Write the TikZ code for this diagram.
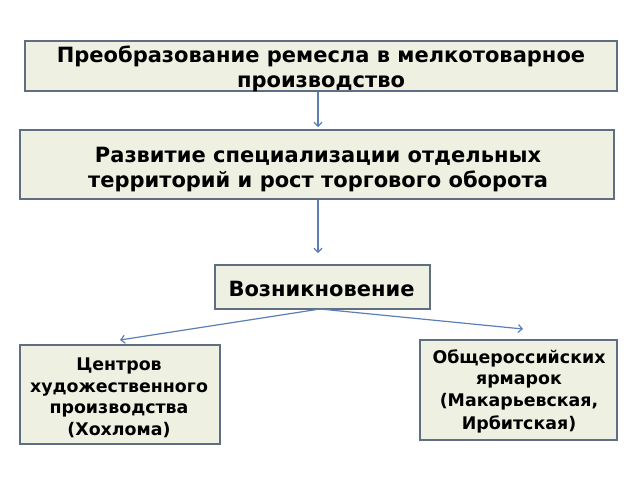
\documentclass[tikz,border=0pt]{standalone}
\usepackage{fontspec}
\setmainfont{DejaVu Sans}
\usetikzlibrary{arrows.meta}
\definecolor{boxfill}{HTML}{EEF0E2}
\definecolor{boxline}{HTML}{5F6E80}
\definecolor{arr}{HTML}{5B7FB5}
\begin{document}
\begin{tikzpicture}[x=1pt,y=-1pt,
  box/.style={draw=boxline,fill=boxfill,line width=1.5pt,inner sep=0pt},
  txt/.style={align=center,font=\bfseries\fontsize{21}{25}\selectfont},
  stxt/.style={align=center,font=\bfseries\fontsize{17.4}{21.5}\selectfont},
  link/.style={draw=arr,line width=1.2pt,-{Straight Barb[length=4pt,width=8pt]}}]
\useasboundingbox (0,0) rectangle (640,480);
\node[box,minimum width=592pt,minimum height=50pt] (b1) at (321,66) {};
\node[txt] (t1) at (321,69) {Преобразование ремесла в мелкотоварное\\производство};
\node[box,minimum width=594pt,minimum height=69pt] (b2) at (317,164.5) {};
\node[txt] (t2) at (318,170) {Развитие специализации отдельных\\территорий и рост торгового оборота};
\node[box,minimum width=215pt,minimum height=44pt] (b3) at (322.5,287) {};
\node[txt,anchor=west] (t3) at (225,289) {Возникновение};
\node[box,minimum width=200pt,minimum height=99pt] (b4) at (120,394.5) {};
\node[stxt] (t4) at (119,398) {Центров\\художественного\\производства\\(Хохлома)};
\node[box,minimum width=197pt,minimum height=100pt] (b5) at (518.5,390) {};
\node[stxt] (t5) at (519,391) {Общероссийских\\ярмарок\\(Макарьевская,\\[1.5pt]Ирбитская)};
\coordinate (a1) at (318,127);
\coordinate (a2) at (318,253);
\coordinate (c3) at (320,309);
\coordinate (a4) at (120,340);
\coordinate (a5) at (523,329);
\draw[link] (b1.south -| a1) -- (a1);
\draw[link] (b2.south -| a2) -- (a2);
\draw[link] (c3) -- (a4);
\draw[link] (c3) -- (a5);
\end{tikzpicture}
\end{document}
